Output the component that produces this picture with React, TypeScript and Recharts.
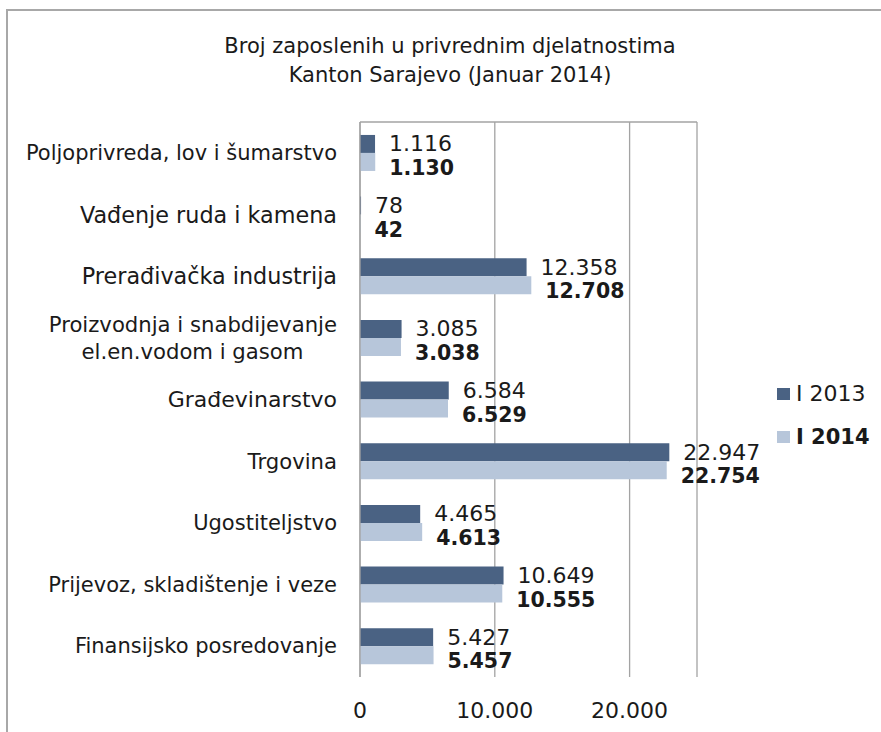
import React from 'react';
import { BarChart, Bar, XAxis, YAxis, CartesianGrid, LabelList, Legend } from 'recharts';

const categories = [
  'Poljoprivreda, lov i šumarstvo',
  'Vađenje ruda i kamena',
  'Prerađivačka industrija',
  'Proizvodnja i snabdijevanje\nel.en.vodom i gasom',
  'Građevinarstvo',
  'Trgovina',
  'Ugostiteljstvo',
  'Prijevoz, skladištenje i veze',
  'Finansijsko posredovanje',
];
const values2013 = [1116, 78, 12358, 3085, 6584, 22947, 4465, 10649, 5427];
const values2014 = [1130, 42, 12708, 3038, 6529, 22754, 4613, 10555, 5457];
const xTicks = [0, 10000, 20000];
const seriesNames = ['I 2013', 'I 2014'];
const titleLines = ['Broj zaposlenih u privrednim djelatnostima', 'Kanton Sarajevo (Januar 2014)'];

const labelSizes = [21, 22.3, 22.3, 21.2, 22, 21.2, 21, 21, 21];

const data = categories.map((c, i) => ({ name: c, y2013: values2013[i], y2014: values2014[i] }));

const FONT = "'DejaVu Sans', sans-serif";
const TEXT = '#1a1a1a';
const DARK = '#4a6283';
const LIGHT = '#b7c6da';
const GRID = '#a3a3a3';

const fmt = (n: number) => String(n).replace(/\B(?=(\d{3})+(?!\d))/g, '.');

const CategoryTick = (props: any) => {
  const { x, y, payload, index } = props;
  const label: string = payload.value;
  const idx = categories.indexOf(label);
  const size = labelSizes[idx >= 0 ? idx : index] || 21;
  const lines = label.split('\n');
  const right = x - 23;
  if (lines.length === 1) {
    return (
      <text x={right} y={y} textAnchor="end" dominantBaseline="central" fontSize={size} fontFamily={FONT} fill={TEXT}>
        {label}
      </text>
    );
  }
  return (
    <g>
      <text x={right} y={y - 13.5} textAnchor="end" dominantBaseline="central" fontSize={size} fontFamily={FONT} fill={TEXT}>
        {lines[0]}
      </text>
      <text x={right - 144.5} y={y + 13.5} textAnchor="middle" dominantBaseline="central" fontSize={size} fontFamily={FONT} fill={TEXT}>
        {lines[1]}
      </text>
    </g>
  );
};

const makeLabel = (bold: boolean) => (props: any) => {
  const { x, y, width, height, value } = props;
  return (
    <text
      x={x + width + 14}
      y={y + height / 2 + (bold ? 6 : 0)}
      dominantBaseline="central"
      fontSize={bold ? 20.5 : 22}
      fontWeight={bold ? 'bold' : 'normal'}
      fontFamily={FONT}
      fill={TEXT}
    >
      {fmt(value)}
    </text>
  );
};

const LegendContent = () => (
  <div style={{ fontFamily: FONT, color: TEXT }}>
    {seriesNames.map((n, i) => (
      <div key={n} style={{ display: 'flex', alignItems: 'center', height: 43 }}>
        <span style={{ display: 'inline-block', width: 13, height: 12, background: i === 0 ? DARK : LIGHT, marginRight: 6 }} />
        <span style={{ fontSize: i === 0 ? 22 : 21, fontWeight: i === 0 ? 'normal' : 'bold' }}>{n}</span>
      </div>
    ))}
  </div>
);

export default function App() {
  return (
    <div style={{ position: 'fixed', left: 0, top: 0, width: 881, height: 732, overflow: 'hidden', background: '#fff' }}>
      <div
        style={{
          position: 'absolute',
          left: 6,
          top: 9,
          width: 881,
          height: 732,
          borderLeft: '2px solid #a8a8a8',
          borderTop: '2px solid #a8a8a8',
        }}
      />
      <div
        style={{
          position: 'absolute',
          left: 150,
          top: 32,
          width: 600,
          textAlign: 'center',
          fontFamily: FONT,
          fontSize: 21,
          lineHeight: '29px',
          color: TEXT,
        }}
      >
        {titleLines.map((t) => (
          <div key={t}>{t}</div>
        ))}
      </div>
      <div style={{ position: 'absolute', left: 0, top: 0 }}>
        <BarChart
          width={881}
          height={732}
          data={data}
          layout="vertical"
          margin={{ top: 122, right: 184, bottom: 15, left: 0 }}
          barCategoryGap="21%"
          barGap={0}
        >
          <CartesianGrid
            stroke={GRID}
            strokeWidth={1.3}
            horizontal={true}
            vertical={true}
            horizontalCoordinatesGenerator={(p: any) => [p.offset.top]}
          />
          <XAxis
            type="number"
            domain={[0, 25000]}
            ticks={xTicks}
            axisLine={false}
            tickLine={false}
            tickMargin={19}
            height={40}
            tickFormatter={(v: number) => fmt(v)}
            tick={{ fontSize: 22, fontFamily: FONT, fill: TEXT }}
          />
          <YAxis
            type="category"
            dataKey="name"
            width={360}
            axisLine={{ stroke: GRID, strokeWidth: 1.3 }}
            tickLine={false}
            tickSize={0}
            tickMargin={0}
            interval={0}
            tick={<CategoryTick />}
          />
          <Legend
            layout="horizontal"
            verticalAlign="middle"
            align="center"
            wrapperStyle={{ left: 777, top: 372, width: 104 }}
            content={<LegendContent />}
          />
          <Bar dataKey="y2013" name={seriesNames[0]} fill={DARK} isAnimationActive={false}>
            <LabelList dataKey="y2013" content={makeLabel(false)} />
          </Bar>
          <Bar dataKey="y2014" name={seriesNames[1]} fill={LIGHT} isAnimationActive={false}>
            <LabelList dataKey="y2014" content={makeLabel(true)} />
          </Bar>
        </BarChart>
      </div>
    </div>
  );
}
